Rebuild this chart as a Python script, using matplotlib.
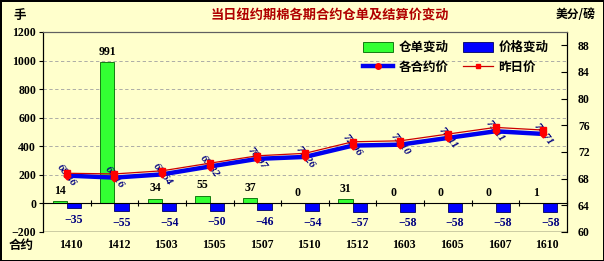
import matplotlib
matplotlib.use("Agg")
import matplotlib.pyplot as plt
import matplotlib.transforms as mtransforms
from matplotlib.patches import Patch
from matplotlib.lines import Line2D
import numpy as np

plt.rcParams['font.family'] = ['Liberation Serif', 'Noto Sans CJK SC', 'DejaVu Sans']

categories = ['1410', '1412', '1503', '1505', '1507', '1510', '1512', '1603', '1605', '1607', '1610']
warrant_change = [14, 991, 34, 55, 37, 0, 31, 0, 0, 0, 1]
price_change = [-35, -55, -54, -50, -46, -54, -57, -58, -58, -58, -58]
contract_price = [68.46, 68.16, 68.64, 69.82, 70.97, 71.26, 72.96, 73.10, 74.11, 75.11, 74.71]
prev_price = [68.81, 68.71, 69.18, 70.32, 71.43, 71.80, 73.53, 73.68, 74.69, 75.69, 75.29]
left_ticks = [-200, 0, 200, 400, 600, 800, 1000, 1200]
right_ticks = [60, 64, 68, 72, 76, 80, 84, 88]

BG = '#FFFFCC'
CJK = ['Noto Sans CJK SC', 'DejaVu Sans']
SERIF = ['Liberation Serif', 'DejaVu Serif']

fig = plt.figure(figsize=(6.04, 2.61), dpi=100)
fig.patch.set_facecolor(BG)
fig.patch.set_edgecolor('black')
fig.patch.set_linewidth(2)

ax = fig.add_axes([43/604, 29/261, 524/604, 200/261])
ax.set_facecolor(BG)
x = np.arange(len(categories))
w = 0.3

gb = ax.bar(x - w/2, warrant_change, w, color='#33FF33', edgecolor='#006600', linewidth=0.6, zorder=3)
bb = ax.bar(x + w/2, price_change, w, color='#0000FF', edgecolor='#000066', linewidth=0.6, zorder=3)

ax.set_xlim(-0.5, len(categories) - 0.5)
ax.set_ylim(-200, 1200)
ax.set_yticks(left_ticks)
ax.set_yticklabels([str(t).replace('-', '\u2212') for t in left_ticks],
                   fontsize=8.5, fontweight='bold', family=SERIF)
for t in left_ticks[2:-1]:
    ax.axhline(t, color='#A0A0A0', lw=0.6, ls=(0, (4, 3)), zorder=1)
ax.tick_params(axis='y', direction='out', length=3, width=0.8, pad=2)

# zero axis with boundary ticks
ax.spines['bottom'].set_position(('data', 0))
ax.set_xticks(np.arange(len(categories) + 1) - 0.5)
ax.set_xticklabels([])
ax.tick_params(axis='x', direction='inout', length=4, width=0.8)
ax.axhline(-200, color='black', lw=1.0, zorder=4)
for s in ax.spines.values():
    s.set_linewidth(0.8)
    s.set_zorder(4)
ax.spines['top'].set_color('#606060')

lab_off = mtransforms.ScaledTranslation(4/100, 0, fig.dpi_scale_trans)
trans = mtransforms.blended_transform_factory(ax.transData, ax.transAxes) + lab_off
for i, c in enumerate(categories):
    ax.text(i, -0.065, c, transform=trans, ha='center', va='center',
            fontsize=8.5, fontweight='bold', family=SERIF)

for rect, v in zip(gb, warrant_change):
    ax.annotate(str(v), (rect.get_x() + rect.get_width()/2, max(v, 0)),
                xytext=(0, 3), textcoords='offset points', ha='center', va='bottom',
                fontsize=8.5, fontweight='bold', family=SERIF, color='black', zorder=5)
for rect, v in zip(bb, price_change):
    ax.annotate(str(v).replace('-', '\u2212'), (rect.get_x() + rect.get_width()/2, v),
                xytext=(0, -4), textcoords='offset points', ha='center', va='top',
                fontsize=8.5, fontweight='bold', family=SERIF, color='#000080', zorder=5)

ax2 = ax.twinx()
ax2.set_ylim(60, 90)
ax2.set_yticks(right_ticks)
ax2.set_yticklabels([str(t) for t in right_ticks], fontsize=8.5, fontweight='bold', family=SERIF)
ax2.tick_params(axis='y', direction='in', length=4, width=0.8, pad=8)
for s in ax2.spines.values():
    s.set_linewidth(0.8)
ax2.spines['bottom'].set_visible(False)
ax2.spines['top'].set_color('#606060')

for i, v in enumerate(contract_price):
    ax2.text(i, v, f'{v:.2f}', rotation=-52, ha='center', va='center',
             fontsize=8, fontweight='bold', style='italic', family=SERIF,
             color='#000080', zorder=5, rotation_mode='anchor')
l1, = ax2.plot(x, contract_price, color='#0000EE', lw=3.2, marker='D', ms=3.5,
               mfc='#FF0000', mec='#FF0000', zorder=6)
l2, = ax2.plot(x, prev_price, color='#CC0000', lw=0.9, marker='s', ms=4.5,
               mfc='#FF0000', mec='#FF0000', zorder=7)

handles = [Patch(facecolor='#33FF33', edgecolor='#006600', lw=0.6),
           Line2D([], [], color='#0000EE', lw=3.2, marker='o', ms=4, mfc='#FF0000', mec='#FF0000'),
           Patch(facecolor='#0000FF', edgecolor='#000066', lw=0.6),
           Line2D([], [], color='#CC0000', lw=0.9, marker='s', ms=3, mfc='#FF0000', mec='#FF0000')]
labels = ['仓单变动', '各合约价', '价格变动', '昨日价']
leg = ax2.legend(handles, labels, ncol=2, loc='upper left', bbox_to_anchor=(0.59, 1.01),
                 frameon=False, prop={'family': CJK, 'weight': 'bold', 'size': 9},
                 handlelength=2.4, handleheight=0.9, columnspacing=1.2, handletextpad=0.4,
                 labelspacing=0.55)

fig.text(330/604, 1 - 15/261, '当日纽约期棉各期合约仓单及结算价变动', ha='center', va='center',
         fontsize=9.5, fontweight='bold', color='#B00000', family=CJK)
fig.text(20/604, 1 - 15/261, '手', ha='center', va='center', fontsize=9, fontweight='bold', family=CJK)
fig.text(576/604, 1 - 15/261, '美分/磅', ha='center', va='center', fontsize=8.5, fontweight='bold', family=CJK)
fig.text(21/604, 1 - 245/261, '合约', ha='center', va='center', fontsize=9, fontweight='bold', family=CJK)

fig.savefig('out.png', dpi=100, facecolor=BG, edgecolor='black')
